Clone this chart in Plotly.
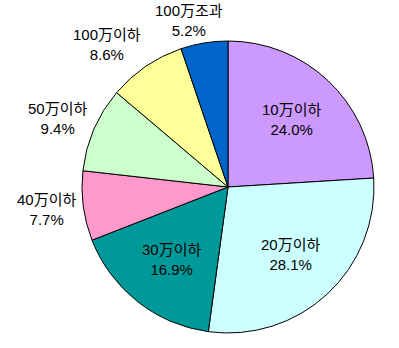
import math
import plotly.graph_objects as go

labels = ["10万이하", "20万이하", "30万이하", "40万이하", "50万이하", "100万이하", "100万조과"]
values = [24.0, 28.1, 16.9, 7.7, 9.4, 8.6, 5.2]
colors = ["#CC99FF", "#CCFFFF", "#009999", "#FF99CC", "#CCFFCC", "#FFFF99", "#0066CC"]
inside = [True, True, True, False, False, False, False]

W, H = 399, 348
CX, CY, R = 228, 187, 145
R_DOM = 146
FS = 15
FONT = "Liberation Sans, Noto Sans CJK KR, sans-serif"

fig = go.Figure(go.Pie(
    labels=labels,
    values=values,
    sort=False,
    direction="clockwise",
    rotation=0,
    marker=dict(colors=colors, line=dict(color="#000000", width=1)),
    textinfo="none",
    domain=dict(x=[(CX - R_DOM) / W, (CX + R_DOM) / W],
                y=[1 - (CY + R_DOM) / H, 1 - (CY - R_DOM) / H]),
    showlegend=False,
    hoverinfo="label+value",
))


def text_width(s):
    w = 0.0
    for ch in s:
        if ch.isdigit():
            w += 0.556
        elif ch == "%":
            w += 0.889
        elif ch == ".":
            w += 0.278
        elif ord(ch) > 0x2E80:
            w += 1.0
        else:
            w += 0.556
    return w * FS


def clip(v):
    return max(-1.0, min(1.0, v))


total = sum(values)
cum = 0.0
for lab, val, f in zip(labels, values, inside):
    start = cum
    cum += val
    theta = math.radians((start + val / 2) / total * 360)
    sx, sy = math.sin(theta), -math.cos(theta)
    pct = f"{val:.1f}%"
    if f:
        ccx = CX + 0.635 * R * sx
        ccy = CY + 0.635 * R * sy
    else:
        px = CX + (R + 7) * sx
        py = CY + (R + 7) * sy
        w = max(text_width(lab), text_width(pct))
        h = 34
        ccx = px + w / 2 * clip(2.5 * sx)
        ccy = py + h / 2 * clip(1.2 * sy)
    fig.add_annotation(
        x=ccx / W, y=1 - ccy / H, xref="paper", yref="paper",
        text=f"{lab}<br>{pct}", showarrow=False,
        xanchor="center", yanchor="middle", align="center",
        font=dict(family=FONT, size=FS, color="#000000"),
    )

fig.update_layout(
    width=W, height=H,
    margin=dict(l=0, r=0, t=0, b=0),
    paper_bgcolor="#FFFFFF",
    plot_bgcolor="#FFFFFF",
)

fig.write_html("out.html")
